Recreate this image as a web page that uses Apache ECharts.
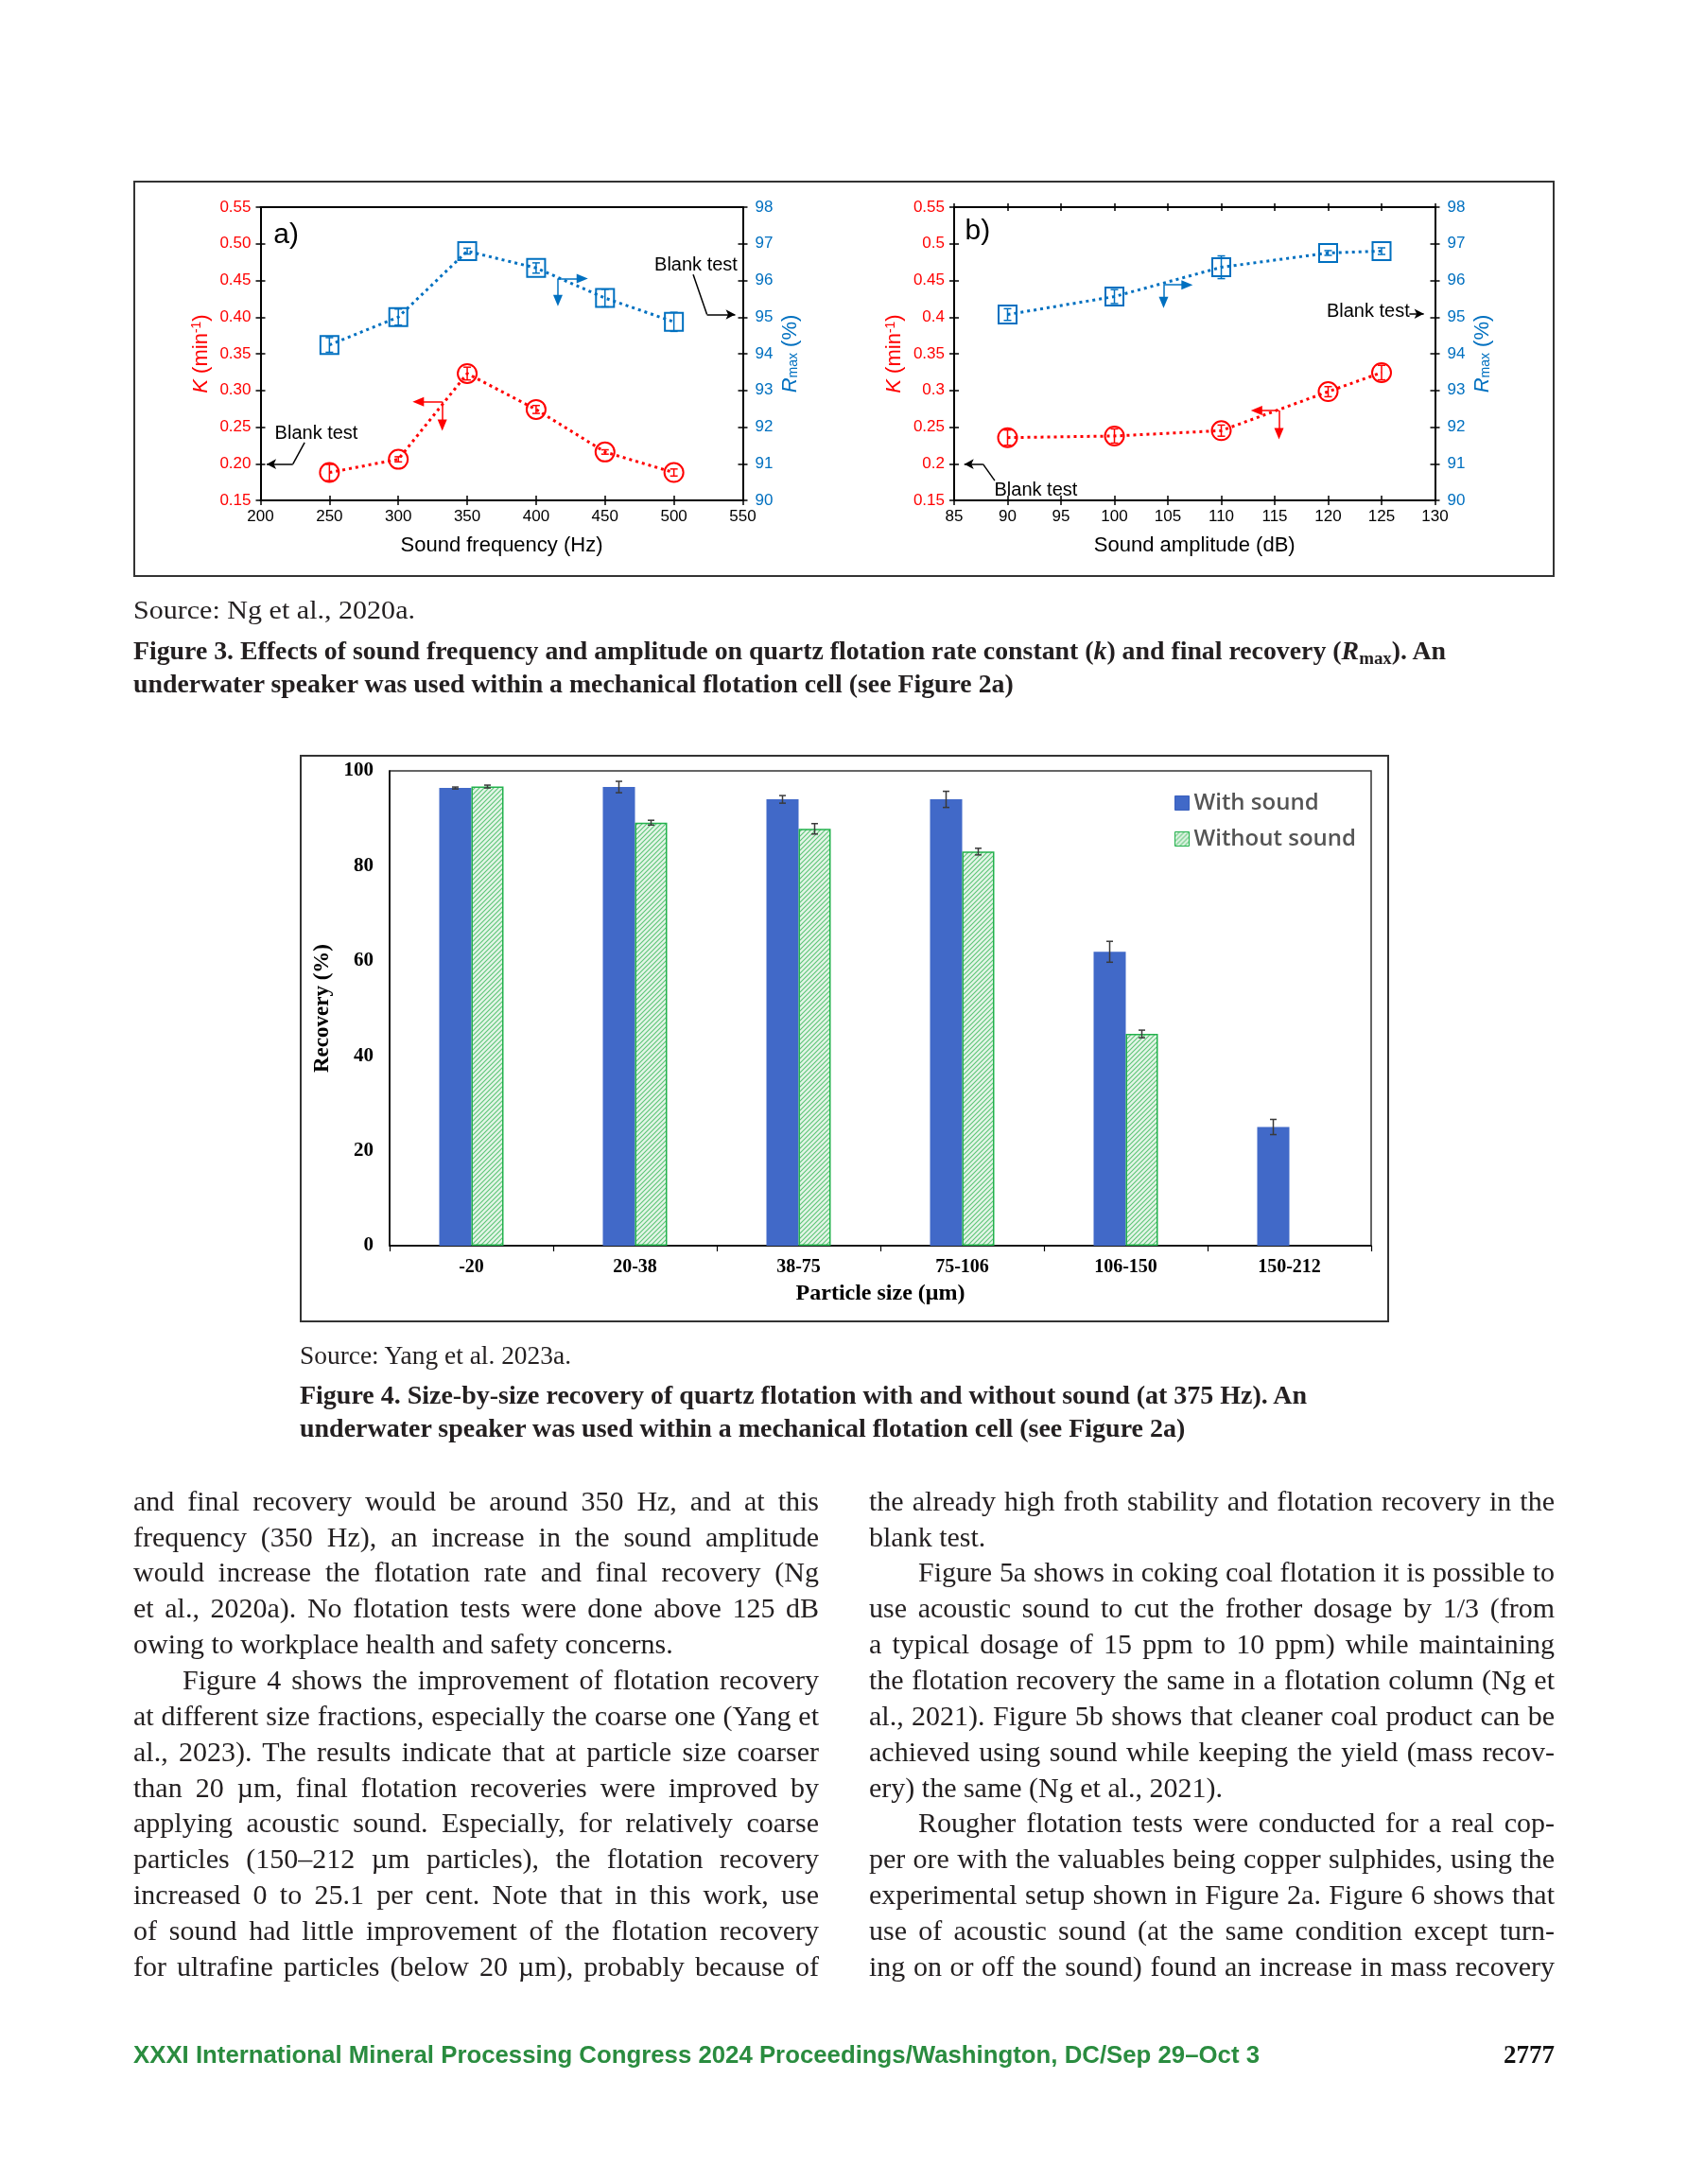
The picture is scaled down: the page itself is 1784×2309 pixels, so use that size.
<!DOCTYPE html>
<html>
<head>
<meta charset="utf-8">
<title>Figures 3 and 4 – sound-assisted flotation</title>
<script src="https://cdn.jsdelivr.net/npm/echarts@6/dist/echarts.min.js"></script>
<style>
html,body{margin:0;padding:0;background:#fff;}
#page{position:relative;width:1784px;height:2309px;overflow:hidden;background:#fff;}
#chart{position:absolute;left:0;top:0;width:1784px;height:2309px;}
.ln{position:absolute;white-space:nowrap;line-height:1.2;color:#231f20;font-family:'Liberation Serif','Times New Roman',serif;transform-origin:0 50%;}
.b{font-weight:bold;}
.ln sub{font-size:0.68em;vertical-align:-0.28em;line-height:0;}
</style>
</head>
<body>
<div id="page"><div id="chart"></div><div id="txt"></div></div>
<script>
// ---------------- DATA ----------------
// Figure 3a: sound frequency
const freqHz        = [250, 300, 350, 400, 450, 500];
const kByFreq       = [0.188, 0.206, 0.323, 0.274, 0.216, 0.188];
const kByFreqErr    = [0.011, 0.0035, 0.0087, 0.0054, 0.003, 0.0048];
const rmaxByFreq    = [94.24, 95.00, 96.80, 96.34, 95.52, 94.87];
const rmaxByFreqErr = [0.20, 0.22, 0.08, 0.14, 0.24, 0.26];
// Figure 3b: sound amplitude
const ampDb         = [90, 100, 110, 120, 125];
const kByAmp        = [0.2356, 0.2378, 0.2451, 0.2983, 0.3243];
const kByAmpErr     = [0.0104, 0.0097, 0.0076, 0.0069, 0.0099];
const rmaxByAmp     = [95.07, 95.56, 96.36, 96.75, 96.80];
const rmaxByAmpErr  = [0.16, 0.19, 0.31, 0.065, 0.09];
// axis ranges (tick labels)
const freqTicks = {min: 200, max: 550, interval: 50};
const ampTicks  = {min: 85, max: 130, interval: 5};
const kTicks    = {min: 0.15, max: 0.55, interval: 0.05};
const rmaxTicks = {min: 90, max: 98, interval: 1};
// Figure 4: size-by-size recovery
const sizeClasses        = ['-20', '20-38', '38-75', '75-106', '106-150', '150-212'];
const recWithSound       = [96.4, 96.6, 94.0, 94.0, 61.9, 25.0];
const recWithSoundErr    = [0.2, 1.2, 0.8, 1.7, 2.2, 1.6];
const recWithoutSound    = [96.7, 89.1, 87.8, 83.0, 44.6, 0];
const recWithoutSoundErr = [0.3, 0.5, 1.1, 0.7, 0.8, 0];
const recTicks = {min: 0, max: 100, interval: 20};

// annotation anchor points (data units)
const annA = {
  panel: {text: 'a)', at: [218.6, 0.512]},
  kArrow: {vertex: [331.9, 0.2845], leftEnd: 314.5, downEnd: 0.2525},
  rArrow: {vertex: [415.8, 96.05], rightEnd: 433.5, downEnd: 95.45},
  blankK: {text: [240.5, 0.2416], lead: [[232, 0.229], [223.5, 0.1995]], arrowEnd: 204.5},
  blankR: {text: [516, 96.42], lead: [[514, 96.16], [524, 95.07]], arrowEnd: 544.5}
};
const annB = {
  panel: {text: 'b)', at: [87.2, 0.517]},
  kArrow: {vertex: [115.4, 0.2725], leftEnd: 113.3, downEnd: 0.241},
  rArrow: {vertex: [104.6, 95.88], rightEnd: 106.8, downEnd: 95.4},
  blankK: {text: [92.65, 0.164], lead: [[88.8, 0.177], [87.7, 0.1995]], arrowEnd: 85.95},
  blankR: {text: [123.75, 95.14], lead: null, arrowFrom: [127.6, 95.09], arrowEnd: 128.95}
};

// ---------------- STYLE ----------------
const SANS = "'Liberation Sans', Arial, sans-serif";
const SERIF = "'Liberation Serif', 'Times New Roman', serif";
const RED = '#FF0000', BLUE = '#0070C0';

function hatchCanvas() {
  const c = document.createElement('canvas');
  c.width = 5; c.height = 5;
  const g = c.getContext('2d');
  g.fillStyle = '#e4f5e8'; g.fillRect(0, 0, 5, 5);
  g.strokeStyle = '#5cc476'; g.lineWidth = 1.1;
  g.beginPath();
  g.moveTo(-1, 6); g.lineTo(6, -1);
  g.moveTo(-1, 1); g.lineTo(1, -1);
  g.moveTo(4, 6); g.lineTo(6, 4);
  g.stroke();
  return c;
}

function xAxesFor(gi, r, name, topTicks) {
  const tk = {color: '#000', width: 1.5};
  const base = {gridIndex: gi, type: 'value', min: r.min, max: r.max, interval: r.interval, splitLine: {show: false}};
  return [
    Object.assign({}, base, {position: 'bottom',
      axisLine: {show: true, onZero: false, lineStyle: {color: '#000', width: 2}},
      axisTick: {show: true, inside: false, length: 5, lineStyle: tk},
      axisLabel: {color: '#000', fontSize: 17, fontFamily: SANS, margin: 9},
      name: name, nameLocation: 'middle', nameGap: 37,
      nameTextStyle: {color: '#000', fontSize: 22, fontFamily: SANS}}),
    Object.assign({}, base, {position: 'bottom', axisLine: {show: false},
      axisTick: {show: true, inside: true, length: 5, lineStyle: tk}, axisLabel: {show: false}}),
    Object.assign({}, base, {position: 'top',
      axisLine: {show: true, onZero: false, lineStyle: {color: '#000', width: 2}},
      axisTick: {show: topTicks, inside: true, length: 4, lineStyle: tk}, axisLabel: {show: false}}),
    Object.assign({}, base, {position: 'top', axisLine: {show: false},
      axisTick: {show: topTicks, inside: false, length: 4, lineStyle: tk}, axisLabel: {show: false}})
  ];
}

function yAxesFor(gi, leftFmt) {
  const tk = {color: '#000', width: 1.5};
  const kb = {gridIndex: gi, type: 'value', min: kTicks.min, max: kTicks.max, interval: kTicks.interval, splitLine: {show: false}};
  const rb = {gridIndex: gi, type: 'value', min: rmaxTicks.min, max: rmaxTicks.max, interval: rmaxTicks.interval, splitLine: {show: false}};
  return [
    Object.assign({}, kb, {position: 'left',
      axisLine: {show: true, onZero: false, lineStyle: {color: '#000', width: 2}},
      axisTick: {show: true, inside: false, length: 5, lineStyle: tk},
      axisLabel: {color: RED, fontSize: 17, fontFamily: SANS, margin: 10, formatter: leftFmt},
      name: '{i|K} (min{s|-1})', nameLocation: 'middle', nameGap: 52,
      nameTextStyle: {color: RED, fontSize: 22, fontFamily: SANS,
        rich: {i: {color: RED, fontSize: 22, fontFamily: SANS, fontStyle: 'italic'},
               s: {color: RED, fontSize: 14, fontFamily: SANS, verticalAlign: 'top', lineHeight: 14}}}}),
    Object.assign({}, kb, {position: 'left', axisLine: {show: false},
      axisTick: {show: true, inside: true, length: 5, lineStyle: tk}, axisLabel: {show: false}}),
    Object.assign({}, rb, {position: 'right',
      axisLine: {show: true, onZero: false, lineStyle: {color: '#000', width: 2}},
      axisTick: {show: true, inside: false, length: 5, lineStyle: tk},
      axisLabel: {color: BLUE, fontSize: 17, fontFamily: SANS, margin: 13},
      name: '{i|R}{s|max} (%)', nameLocation: 'middle', nameGap: 39,
      nameTextStyle: {color: BLUE, fontSize: 22, fontFamily: SANS,
        rich: {i: {color: BLUE, fontSize: 22, fontFamily: SANS, fontStyle: 'italic'},
               s: {color: BLUE, fontSize: 14, fontFamily: SANS, verticalAlign: 'bottom', lineHeight: 14}}}}),
    Object.assign({}, rb, {position: 'right', axisLine: {show: false},
      axisTick: {show: true, inside: true, length: 5, lineStyle: tk}, axisLabel: {show: false}})
  ];
}

function errBar(color, cap, offset) {
  return function (params, api) {
    const e = api.value(2);
    if (!e) return null;
    const v = api.value(1), x = api.value(0);
    const p1 = api.coord([x, v + e]), p2 = api.coord([x, v - e]);
    const xx = p1[0] + (offset || 0);
    const st = {stroke: color, lineWidth: 1.5};
    return {type: 'group', children: [
      {type: 'line', shape: {x1: xx, y1: p1[1], x2: xx, y2: p2[1]}, style: st},
      {type: 'line', shape: {x1: xx - cap, y1: p1[1], x2: xx + cap, y2: p1[1]}, style: st},
      {type: 'line', shape: {x1: xx - cap, y1: p2[1], x2: xx + cap, y2: p2[1]}, style: st}
    ]};
  };
}

function seg(a, b, color, endSym, endSize) {
  const ls = {color: color, width: 1.5, type: 'solid'};
  return [{coord: a, symbol: 'none', lineStyle: ls},
          {coord: b, symbol: endSym || 'none', symbolSize: endSize || [10, 12], lineStyle: ls}];
}

function textPts(items) {
  return {silent: true, symbol: 'circle', symbolSize: 1, itemStyle: {color: 'rgba(0,0,0,0)'},
    label: {show: true, position: 'inside', color: '#000', fontSize: 20, fontFamily: SANS},
    data: items.map(it => ({coord: it.at, label: Object.assign({formatter: it.text}, it.style || {})}))};
}

function fig3Series(xi, yL, yR, xs, k, kErr, r, rErr, ann) {
  const kv = ann.kArrow.vertex, rv = ann.rArrow.vertex;
  const kLines = [
    seg(kv, [ann.kArrow.leftEnd, kv[1]], RED, 'triangle'),
    seg(kv, [kv[0], ann.kArrow.downEnd], RED, 'triangle'),
    seg([ann.blankK.lead[1][0], ann.blankK.lead[1][1]], [ann.blankK.arrowEnd, ann.blankK.lead[1][1]], '#000', 'arrow', [8, 10]),
    seg(ann.blankK.lead[0], ann.blankK.lead[1], '#000')
  ];
  const rLines = [
    seg(rv, [ann.rArrow.rightEnd, rv[1]], BLUE, 'triangle'),
    seg(rv, [rv[0], ann.rArrow.downEnd], BLUE, 'triangle')
  ];
  if (ann.blankR.lead) {
    rLines.push(seg(ann.blankR.lead[0], ann.blankR.lead[1], '#000'));
    rLines.push(seg(ann.blankR.lead[1], [ann.blankR.arrowEnd, ann.blankR.lead[1][1]], '#000', 'arrow', [8, 10]));
  } else {
    rLines.push(seg(ann.blankR.arrowFrom, [ann.blankR.arrowEnd, ann.blankR.arrowFrom[1]], '#000', 'arrow', [8, 10]));
  }
  const ml = lines => ({silent: true, animation: false, symbol: ['none', 'none'], label: {show: false},
                        lineStyle: {type: 'solid'}, data: lines});
  return [
    {type: 'line', name: 'k', xAxisIndex: xi, yAxisIndex: yL, z: 3,
     data: xs.map((x, i) => [x, k[i]]),
     symbol: 'circle', symbolSize: 20,
     itemStyle: {color: 'rgba(255,255,255,0)', borderColor: RED, borderWidth: 2},
     lineStyle: {color: RED, width: 3, type: [3, 4]},
     markLine: ml(kLines),
     markPoint: textPts([
       {text: ann.panel.text, at: ann.panel.at, style: {fontSize: 30}},
       {text: 'Blank test', at: ann.blankK.text}
     ])},
    {type: 'line', name: 'Rmax', xAxisIndex: xi, yAxisIndex: yR, z: 3,
     data: xs.map((x, i) => [x, r[i]]),
     symbol: 'rect', symbolSize: 19,
     itemStyle: {color: 'rgba(255,255,255,0)', borderColor: BLUE, borderWidth: 2},
     lineStyle: {color: BLUE, width: 3, type: [3, 4]},
     markLine: ml(rLines),
     markPoint: textPts([{text: 'Blank test', at: ann.blankR.text}])},
    {type: 'custom', name: 'k err', xAxisIndex: xi, yAxisIndex: yL, z: 5,
     data: xs.map((x, i) => [x, k[i], kErr[i]]), encode: {x: 0, y: 1},
     renderItem: errBar(RED, 4)},
    {type: 'custom', name: 'Rmax err', xAxisIndex: xi, yAxisIndex: yR, z: 5,
     data: xs.map((x, i) => [x, r[i], rErr[i]]), encode: {x: 0, y: 1},
     renderItem: errBar(BLUE, 4)}
  ];
}

const fmt2 = v => v.toFixed(2);
const fmtTrim = v => String(parseFloat(v.toFixed(2)));

const BAR_W = 34;
const F4_LABEL = {color: '#000', fontWeight: 'bold', fontFamily: SERIF};
const option = {
  animation: false,
  grid: [
    {left: 275.5, top: 219, width: 510, height: 310},
    {left: 1009, top: 219, width: 508.5, height: 310},
    {left: 412, top: 815, width: 1038, height: 502, show: true, borderColor: '#333', borderWidth: 1.5}
  ],
  xAxis: [].concat(
    xAxesFor(0, freqTicks, 'Sound frequency (Hz)', false),
    xAxesFor(1, ampTicks, 'Sound amplitude (dB)', true),
    [{gridIndex: 2, type: 'category', data: sizeClasses, position: 'bottom',
      axisLine: {show: true, lineStyle: {color: '#000', width: 1.5}},
      axisTick: {show: true, alignWithLabel: false, length: 6, lineStyle: {color: '#000', width: 1.2}},
      axisLabel: Object.assign({fontSize: 20, margin: 13, interval: 0}, F4_LABEL),
      name: 'Particle size (μm)', nameLocation: 'middle', nameGap: 39,
      nameTextStyle: Object.assign({fontSize: 24}, F4_LABEL)}]
  ),
  yAxis: [].concat(
    yAxesFor(0, fmt2),
    yAxesFor(1, fmtTrim),
    [{gridIndex: 2, type: 'value', min: recTicks.min, max: recTicks.max, interval: recTicks.interval,
      axisLine: {show: true, lineStyle: {color: '#000', width: 1.5}},
      axisTick: {show: false}, splitLine: {show: false},
      axisLabel: Object.assign({fontSize: 21, margin: 17}, F4_LABEL),
      name: 'Recovery (%)', nameLocation: 'middle', nameGap: 57,
      nameTextStyle: Object.assign({fontSize: 23}, F4_LABEL)}]
  ),
  legend: {
    data: ['With sound', 'Without sound'], orient: 'vertical', left: 1237, top: 832,
    icon: 'rect', itemWidth: 15, itemHeight: 15, itemGap: 14, itemStyle: {borderWidth: 1},
    textStyle: {fontSize: 24, color: '#555', fontFamily: "'Open Sans', sans-serif", fontWeight: 600}
  },
  graphic: [
    {type: 'rect', silent: true, z: -1, shape: {x: 142, y: 192, width: 1501, height: 417},
     style: {fill: 'none', stroke: '#333', lineWidth: 2}},
    {type: 'rect', silent: true, z: -1, shape: {x: 318, y: 799, width: 1150, height: 598},
     style: {fill: 'none', stroke: '#333', lineWidth: 2}}
  ],
  series: [].concat(
    fig3Series(0, 0, 2, freqHz, kByFreq, kByFreqErr, rmaxByFreq, rmaxByFreqErr, annA),
    fig3Series(4, 4, 6, ampDb, kByAmp, kByAmpErr, rmaxByAmp, rmaxByAmpErr, annB),
    [
      {type: 'bar', name: 'With sound', xAxisIndex: 8, yAxisIndex: 8, data: recWithSound,
       barWidth: BAR_W, barGap: '0%', itemStyle: {color: '#4169C8', borderColor: '#3a60bd', borderWidth: 0}},
      {type: 'bar', name: 'Without sound', xAxisIndex: 8, yAxisIndex: 8,
       data: recWithoutSound.map(v => v > 0 ? v : {value: v, itemStyle: {borderWidth: 0}}),
       barWidth: BAR_W, barGap: '0%',
       itemStyle: {color: {image: hatchCanvas(), repeat: 'repeat'}, borderColor: '#22b14c', borderWidth: 1.5}},
      {type: 'custom', name: 'err1', xAxisIndex: 8, yAxisIndex: 8, z: 5, encode: {x: 0, y: 1},
       data: sizeClasses.map((c, i) => [i, recWithSound[i], recWithSoundErr[i]]),
       renderItem: errBar('#3a3a3a', 3.5, -BAR_W / 2)},
      {type: 'custom', name: 'err2', xAxisIndex: 8, yAxisIndex: 8, z: 5, encode: {x: 0, y: 1},
       data: sizeClasses.map((c, i) => [i, recWithoutSound[i], recWithoutSoundErr[i]]),
       renderItem: errBar('#3a3a3a', 3.5, BAR_W / 2)}
    ]
  )
};
const chart = echarts.init(document.getElementById('chart'));
chart.setOption(option);

// ---------------- PAGE TEXT ----------------
const leftCol = [
  ['and final recovery would be around 350 Hz, and at this', 1, 0],
  ['frequency (350 Hz), an increase in the sound amplitude', 1, 0],
  ['would increase the flotation rate and final recovery (Ng', 1, 0],
  ['et al., 2020a). No flotation tests were done above 125 dB', 1, 0],
  ['owing to workplace health and safety concerns.', 0, 0],
  ['Figure 4 shows the improvement of flotation recovery', 1, 1],
  ['at different size fractions, especially the coarse one (Yang et', 1, 0],
  ['al., 2023). The results indicate that at particle size coarser', 1, 0],
  ['than 20 µm, final flotation recoveries were improved by', 1, 0],
  ['applying acoustic sound. Especially, for relatively coarse', 1, 0],
  ['particles (150–212 µm particles), the flotation recovery', 1, 0],
  ['increased 0 to 25.1 per cent. Note that in this work, use', 1, 0],
  ['of sound had little improvement of the flotation recovery', 1, 0],
  ['for ultrafine particles (below 20 µm), probably because of', 1, 0]
];
const rightCol = [
  ['the already high froth stability and flotation recovery in the', 1, 0],
  ['blank test.', 0, 0],
  ['Figure 5a shows in coking coal flotation it is possible to', 1, 1],
  ['use acoustic sound to cut the frother dosage by 1/3 (from', 1, 0],
  ['a typical dosage of 15 ppm to 10 ppm) while maintaining', 1, 0],
  ['the flotation recovery the same in a flotation column (Ng et', 1, 0],
  ['al., 2021). Figure 5b shows that cleaner coal product can be', 1, 0],
  ['achieved using sound while keeping the yield (mass recov-', 1, 0],
  ['ery) the same (Ng et al., 2021).', 0, 0],
  ['Rougher flotation tests were conducted for a real cop-', 1, 1],
  ['per ore with the valuables being copper sulphides, using the', 1, 0],
  ['experimental setup shown in Figure 2a. Figure 6 shows that', 1, 0],
  ['use of acoustic sound (at the same condition except turn-', 1, 0],
  ['ing on or off the sound) found an increase in mass recovery', 1, 0]
];

const txt = document.getElementById('txt');
function place(html, x, cy, fs, cls, extra) {
  const d = document.createElement('div');
  d.className = 'ln ' + (cls || '');
  d.innerHTML = html;
  d.style.left = x + 'px';
  d.style.fontSize = fs + 'px';
  d.style.top = (cy - 0.61 * fs) + 'px';
  if (extra) Object.assign(d.style, extra);
  txt.appendChild(d);
  return d;
}
function fitX(el, w) {
  const n = el.getBoundingClientRect().width;
  el.style.transform = 'scaleX(' + (w / n) + ')';
  return w / n;
}
function column(lines, x0, w) {
  const FS = 30, LH = 37.86, Y0 = 1587, IND = 52;
  lines.forEach((l, i) => {
    const x = x0 + (l[2] ? IND : 0), lw = w - (l[2] ? IND : 0);
    const d = place(l[0], x, Y0 + i * LH, FS, '');
    const nat = d.getBoundingClientRect().width;
    if (nat > lw - 4) {
      d.style.letterSpacing = ((lw - 4 - nat) / l[0].length) + 'px';
    }
    if (l[1]) {
      d.style.width = lw + 'px';
      d.style.textAlign = 'justify';
      d.style.textAlignLast = 'justify';
    }
  });
}

function buildText() {
  const s1 = place('Source: Ng et al., 2020a.', 141, 645, 27, '');
  fitX(s1, 298);
  const c1 = place('Figure 3. Effects of sound frequency and amplitude on quartz flotation rate constant (<i>k</i>) and final recovery (<i>R</i><sub>max</sub>). An', 141, 688, 27, 'b');
  const sc = fitX(c1, 1388);
  const c2 = place('underwater speaker was used within a mechanical flotation cell (see Figure 2a)', 141, 723, 27, 'b');
  c2.style.transform = 'scaleX(' + sc + ')';

  const s2 = place('Source: Yang et al. 2023a.', 317, 1433, 27, '');
  fitX(s2, 287);
  const c3 = place('Figure 4. Size-by-size recovery of quartz flotation with and without sound (at 375 Hz). An', 317, 1475, 27, 'b');
  const sc2 = fitX(c3, 1065);
  const c4 = place('underwater speaker was used within a mechanical flotation cell (see Figure 2a)', 317, 1510, 27, 'b');
  c4.style.transform = 'scaleX(' + sc2 + ')';

  column(leftCol, 141, 725);
  column(rightCol, 919, 725);

  const f = place('XXXI International Mineral Processing Congress 2024 Proceedings/Washington, DC/Sep 29–Oct 3', 141, 2172, 25, 'b',
    {fontFamily: "'Liberation Sans', Arial, sans-serif", color: '#2a8c3f'});
  fitX(f, 1191);
  const pn = place('2777', 0, 2172, 27, 'b', {color: '#111'});
  const pw = pn.getBoundingClientRect().width;
  pn.style.left = (1644 - pw) + 'px';
}
if (document.fonts && document.fonts.ready) {
  document.fonts.ready.then(buildText);
} else {
  buildText();
}
</script>
</body>
</html>
